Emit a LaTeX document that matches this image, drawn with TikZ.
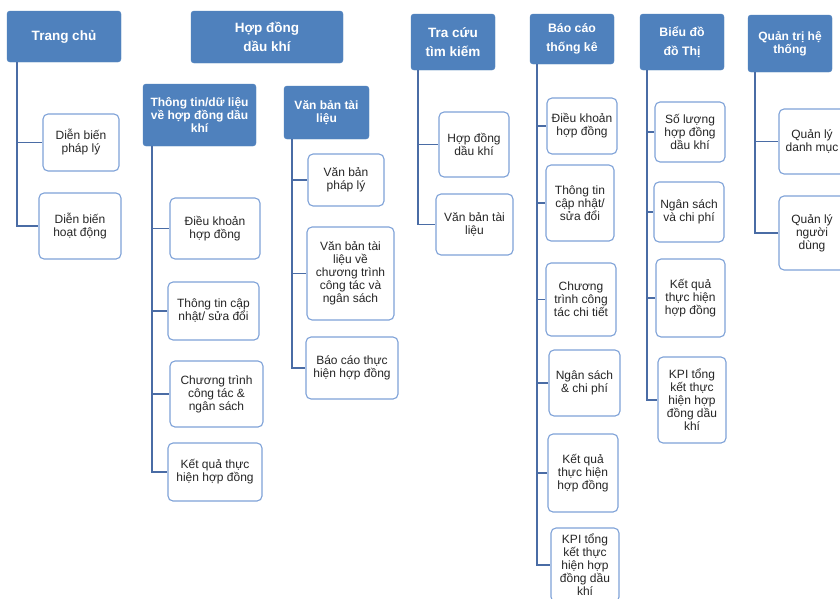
\documentclass[tikz,border=0pt]{standalone}
\usepackage{fontspec}
\setmainfont{Liberation Sans}
\definecolor{head_fill}{HTML}{4F81BD}
\definecolor{item_border}{HTML}{7EA2D8}
\definecolor{link_line}{HTML}{4A6CA5}
\definecolor{item_text}{HTML}{262626}

\begin{document}
\begin{tikzpicture}[
  x=1pt, y=-1pt,
  hvertex/.style = {rectangle, rounded corners=3pt, draw=head_fill, fill=head_fill, text=white, align=center, inner sep=1pt, font=\bfseries\fontsize{12}{13}\selectfont},
  bighead/.style = {font=\bfseries\fontsize{13.5}{19.5}\selectfont},
  midhead/.style = {font=\bfseries\fontsize{12.3}{18.5}\selectfont},
  ivertex/.style = {rectangle, rounded corners=5pt, draw=item_border, line width=1.1pt, fill=white, text=item_text, align=center, inner sep=1pt, font=\fontsize{12}{13}\selectfont},
  wh/.style 2 args = {minimum width=#1pt, minimum height=#2pt},
  link/.style = {draw=link_line, line width=1.5pt},
]
\clip (0,0) rectangle (840,598);
\fill[white] (0,0) rectangle (840,598);

% Define headers
\node[hvertex, bighead, wh={114}{51}] (trang) at (64,36.5) {Trang chủ};
\node[hvertex, bighead, wh={152}{52}] (hopdong) at (267,37) {Hợp đồng\\dầu khí};
\node[hvertex, bighead, wh={84}{56}] (tracuu) at (453,42) {Tra cứu\\tìm kiếm};
\node[hvertex, midhead, wh={84}{50}] (baocao) at (572,39) {Báo cáo\\thống kê};
\node[hvertex, midhead, wh={84}{56}] (bieudo) at (682,42) {Biểu đồ\\đồ Thị};
\node[hvertex, wh={84}{57}] (quantri) at (790,43.5) {Quản trị hệ\\thống};
\node[hvertex, wh={113}{62}] (ttin) at (199.5,115) {Thông tin/dữ liệu\\về hợp đồng dầu\\khí};
\node[hvertex, wh={85}{53}] (vban) at (326.5,112.5) {Văn bản tài\\liệu};

% Define items
\node[ivertex, wh={76}{57}] (dbpl) at (81,142.5) {Diễn biến\\pháp lý};
\node[ivertex, wh={82}{66}] (dbhd) at (80,226) {Diễn biến\\hoạt động};

\node[ivertex, wh={90}{61}] (dkhd) at (215,228.5) {Điều khoản\\hợp đồng};
\node[ivertex, wh={91}{58}] (ttcn) at (213.5,311) {Thông tin cập\\nhật/ sửa đổi};
\node[ivertex, wh={93}{66}] (ctct) at (216.5,394) {Chương trình\\công tác \&\\ngân sách};
\node[ivertex, wh={94}{58}] (kqth) at (215,472) {Kết quả thực\\hiện hợp đồng};

\node[ivertex, wh={76}{52}] (vbpl) at (346,180) {Văn bản\\pháp lý};
\node[ivertex, wh={87}{93}] (vbct) at (350.5,273.5) {Văn bản tài\\liệu về\\chương trình\\công tác và\\ngân sách};
\node[ivertex, wh={92}{62}] (bcth) at (352,368) {Báo cáo thực\\hiện hợp đồng};

\node[ivertex, wh={70}{65}] (tchd) at (474,144.5) {Hợp đồng\\dầu khí};
\node[ivertex, wh={77}{61}] (tcvb) at (474.5,224.5) {Văn bản tài\\liệu};

\node[ivertex, wh={70}{56}] (bcdk) at (582,126) {Điều khoản\\hợp đồng};
\node[ivertex, wh={68}{76}] (bctt) at (580,203) {Thông tin\\cập nhật/\\sửa đổi};
\node[ivertex, wh={70}{73}] (bcct) at (581,299.5) {Chương\\trình công\\tác chi tiết};
\node[ivertex, wh={71}{66}] (bcns) at (584.5,383) {Ngân sách\\\& chi phí};
\node[ivertex, wh={70}{78}] (bckq) at (583,473) {Kết quả\\thực hiện\\hợp đồng};
\node[ivertex, wh={68}{74}] (bckpi) at (585,565) {KPI tổng\\kết thực\\hiện hợp\\đồng dầu\\khí};

\node[ivertex, wh={70}{60}] (bdsl) at (690,132) {Số lượng\\hợp đồng\\dầu khí};
\node[ivertex, wh={70}{60}] (bdns) at (689,212) {Ngân sách\\và chi phí};
\node[ivertex, wh={69}{78}] (bdkq) at (690.5,298) {Kết quả\\thực hiện\\hợp đồng};
\node[ivertex, wh={68}{86}] (bdkpi) at (692,400) {KPI tổng\\kết thực\\hiện hợp\\đồng dầu\\khí};

\node[ivertex, wh={66}{65}] (qldm) at (812,141.5) {Quản lý\\danh mục};
\node[ivertex, wh={66}{74}] (qlnd) at (812,233) {Quản lý\\người\\dùng};

% Draw connectors
\foreach \c in {dbpl, dbhd}
  \draw[link] ([xshift=10pt]trang.south west) |- (\c);
\foreach \c in {dkhd, ttcn, ctct, kqth}
  \draw[link] ([xshift=9pt]ttin.south west) |- (\c);
\foreach \c in {vbpl, vbct, bcth}
  \draw[link] ([xshift=8pt]vban.south west) |- (\c);
\foreach \c in {tchd, tcvb}
  \draw[link] ([xshift=7pt]tracuu.south west) |- (\c);
\foreach \c in {bcdk, bctt, bcct, bcns, bckq, bckpi}
  \draw[link] ([xshift=7pt]baocao.south west) |- (\c);
\foreach \c in {bdsl, bdns, bdkq, bdkpi}
  \draw[link] ([xshift=7pt]bieudo.south west) |- (\c);
\foreach \c in {qldm, qlnd}
  \draw[link] ([xshift=7pt]quantri.south west) |- (\c);
\end{tikzpicture}
\end{document}
